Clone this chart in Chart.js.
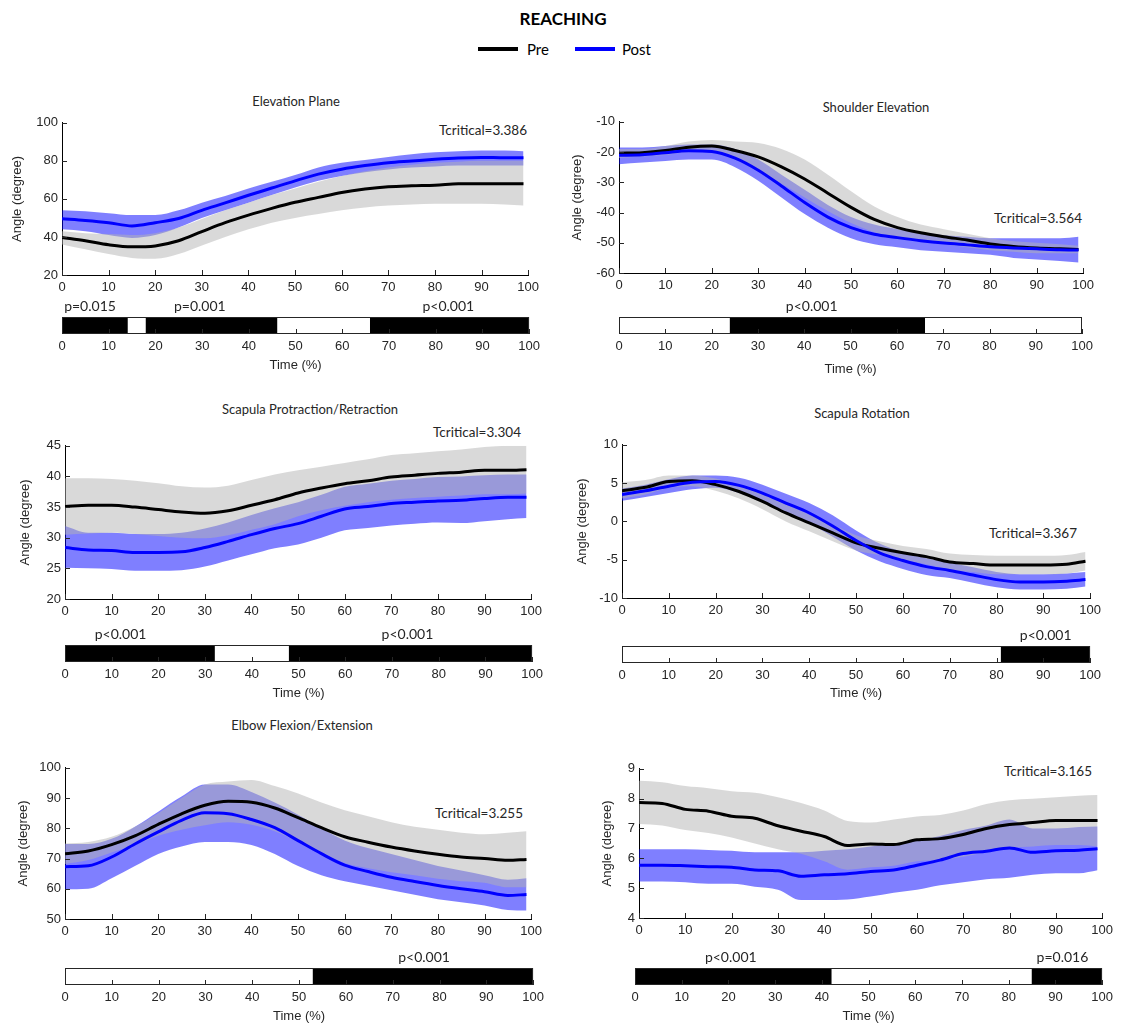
<!DOCTYPE html>
<html>
<head>
<meta charset="utf-8">
<title>REACHING</title>
<script src="https://cdn.jsdelivr.net/npm/chart.js@4.4.1/dist/chart.umd.min.js"></script>
<style>
  body { margin: 0; background: #fff; }
  #page { position: relative; width: 1123px; height: 1025px; overflow: hidden; font-family: Lato, 'Open Sans', sans-serif; color: #262626; }
  .txt { position: absolute; transform: translate(-50%, -50%); white-space: nowrap; font-size: 13px; }
  .tcrit { font-size: 13.5px; }
  .main-title { font-size: 17px; font-weight: bold; color: #000; }
  .legend-txt { position: absolute; transform: translateY(-50%); font-size: 15px; color: #000; }
  .legend-line { position: absolute; height: 4px; }
  canvas { position: absolute; }
</style>
</head>
<body>
<div id="page">
  <div class="txt main-title" style="left:563px; top:18px;">REACHING</div>
  <div class="legend-line" style="left:478px; top:47px; width:40px; background:#000;"></div>
  <div class="legend-txt" style="left:527px; top:49px;">Pre</div>
  <div class="legend-line" style="left:575px; top:47px; width:40px; background:#0000ff;"></div>
  <div class="legend-txt" style="left:622px; top:49px;">Post</div>
</div>
<script>
// 時間軸（%）と目盛り
const timePct = [0, 5, 10, 15, 20, 25, 30, 35, 40, 45, 50, 55, 60, 65, 70, 75, 80, 85, 90, 95, 99];
const timeTicks = [0, 10, 20, 30, 40, 50, 60, 70, 80, 90, 100];

// Elevation Plane
const p1YTicks = [20, 40, 60, 80, 100];
const p1PreMean = [39.7, 38, 35.9, 34.8, 35.3, 38, 42.8, 47.5, 51.5, 55, 58.2, 60.8, 63.4, 65.2, 66.4, 66.9, 67.2, 67.9, 68, 68, 67.9];
const p1PreUpper = [43, 42, 41.5, 41, 42, 45, 49.5, 54, 58, 62, 65.5, 69, 72, 74.5, 76.5, 78, 79, 79.5, 80, 80, 80];
const p1PreLower = [36, 33.5, 31, 29, 28.5, 31, 35.5, 40, 44, 47.5, 50, 52, 54, 55.5, 56.5, 57, 57.5, 57.5, 57.5, 57, 56.5];
const p1PostMean = [49.6, 48.7, 47.5, 45.8, 47.5, 49.7, 54, 57.9, 61.9, 65.7, 69.5, 73, 75.6, 77.5, 79, 79.9, 80.8, 81.5, 81.8, 81.6, 81.6];
const p1PostUpper = [54, 53.5, 52.5, 51.5, 51.5, 54, 58, 61.5, 65.5, 69, 72.5, 76.5, 79, 80.5, 82, 83.5, 84.5, 85, 85.5, 85.5, 85];
const p1PostLower = [44, 43, 41, 39.5, 41, 45, 50, 54, 58, 62, 66, 69.5, 72, 74, 75.5, 76.5, 77, 77.5, 77.5, 77.5, 77.5];
const p1Sig = [[0, 14], [18, 46], [66, 100]];
const p1PText = ['p=0.015', 'p=0.001', 'p<0.001'];
const p1PAt = [6, 29.5, 82.7];

// Shoulder Elevation
const p2YTicks = [-60, -50, -40, -30, -20, -10];
const p2PreMean = [-20.4, -20.2, -19.5, -18.4, -18, -19.5, -21.6, -24.9, -28.9, -33.6, -38.3, -42.3, -45, -46.7, -48, -49.1, -50.4, -51.2, -51.7, -52, -52.2];
const p2PreUpper = [-19, -19, -18, -16.5, -16, -16.5, -17, -19, -22.5, -27.5, -33, -38, -41.5, -44, -45.5, -47, -48.5, -49.5, -50, -50.5, -51];
const p2PreLower = [-22, -21.5, -21, -20, -20, -22.5, -26, -30.5, -35, -39.5, -43.5, -46.5, -48.5, -49.5, -50.5, -51.5, -52.5, -53, -53.5, -53.5, -53.5];
const p2PostMean = [-21.1, -20.9, -20.2, -19.6, -19.8, -22, -26, -31.2, -36.7, -41.5, -45, -47.2, -48.3, -49.3, -50.1, -50.7, -51.3, -51.7, -52, -52.3, -52.4];
const p2PostUpper = [-18.5, -18.5, -18, -17.5, -17.5, -19, -22.5, -27.5, -32.5, -37.5, -41.5, -44, -45.5, -46.5, -47.5, -48, -48.5, -48.5, -48.5, -48.5, -48];
const p2PostLower = [-24, -23.5, -23, -22.5, -22.5, -25, -29.5, -35, -40.5, -45, -48.5, -50.5, -51.5, -52.5, -53, -53.5, -54, -55, -55.5, -56, -56.5];
const p2Sig = [[24, 66]];
const p2PText = ['p<0.001'];
const p2PAt = [41.6];

// Scapula Protraction/Retraction
const p3YTicks = [20, 25, 30, 35, 40, 45];
const p3PreMean = [35.1, 35.3, 35.3, 35, 34.6, 34.2, 34, 34.4, 35.3, 36.2, 37.3, 38.1, 38.8, 39.3, 39.9, 40.2, 40.5, 40.7, 41, 41, 41.1];
const p3PreUpper = [39.7, 39.7, 39.6, 39.3, 38.9, 38.4, 38.2, 38.5, 39.4, 40.3, 41, 41.6, 42.2, 42.8, 43.5, 43.8, 44.1, 44.4, 44.8, 45, 45];
const p3PreLower = [30.5, 30.7, 30.8, 30.6, 30.3, 30, 29.9, 30.4, 31.3, 32.2, 33.5, 34.5, 35.2, 35.8, 36.2, 36.5, 36.7, 36.9, 37.1, 37.1, 37.2];
const p3PostMean = [28.4, 28, 27.9, 27.6, 27.6, 27.7, 28.4, 29.4, 30.5, 31.5, 32.3, 33.5, 34.7, 35.1, 35.6, 35.8, 36, 36.1, 36.4, 36.6, 36.6];
const p3PostUpper = [31.9, 30.8, 30.8, 30.6, 30.6, 30.8, 31.5, 32.5, 33.7, 34.8, 35.8, 37, 38.3, 38.8, 39.3, 39.6, 39.9, 40, 40.2, 40.3, 40.3];
const p3PostLower = [25.1, 25, 24.9, 24.6, 24.6, 24.7, 25.3, 26.3, 27.3, 28.3, 28.9, 30, 31.2, 31.6, 32, 32.3, 32.5, 32.4, 32.7, 33, 33.2];
const p3Sig = [[0, 32], [48, 100]];
const p3PText = ['p<0.001', 'p<0.001'];
const p3PAt = [11.9, 73.3];

// Scapula Rotation
const p4YTicks = [-10, -5, 0, 5, 10];
const p4PreMean = [4, 4.45, 5.2, 5.3, 4.8, 3.9, 2.6, 1.1, -0.2, -1.5, -2.8, -3.5, -4.1, -4.6, -5.3, -5.5, -5.7, -5.7, -5.7, -5.6, -5.2];
const p4PreUpper = [5.1, 5.4, 6, 6, 5.6, 4.8, 3.6, 2.2, 0.9, -0.4, -1.8, -2.6, -3.2, -3.6, -4.2, -4.4, -4.5, -4.5, -4.5, -4.4, -4];
const p4PreLower = [3, 3.5, 4.4, 4.6, 4, 3, 1.6, 0, -1.3, -2.6, -3.8, -4.4, -5, -5.6, -6.3, -6.6, -6.9, -6.9, -6.9, -6.8, -6.4];
const p4PostMean = [3.5, 4, 4.6, 5.1, 5.2, 4.7, 3.7, 2.4, 1.1, -0.6, -2.5, -4.1, -5.1, -5.9, -6.4, -7, -7.6, -7.9, -7.9, -7.8, -7.6];
const p4PostUpper = [4.3, 4.8, 5.5, 6, 6, 5.7, 4.8, 3.6, 2.4, 0.8, -1.2, -2.9, -4, -4.8, -5.4, -6, -6.6, -6.9, -6.9, -6.8, -6.6];
const p4PostLower = [2.7, 3.2, 3.7, 4.2, 4.4, 3.7, 2.6, 1.2, -0.2, -2, -3.8, -5.2, -6.2, -7, -7.4, -8, -8.6, -8.9, -8.9, -8.8, -8.5];
const p4Sig = [[81, 100]];
const p4PText = ['p<0.001'];
const p4PAt = [90.5];

// Elbow Flexion/Extension
const p5YTicks = [50, 60, 70, 80, 90, 100];
const p5PreMean = [71.6, 72.5, 74.6, 77.5, 81.3, 84.8, 87.6, 88.9, 88.6, 86.7, 83.5, 80.2, 77.2, 75.4, 73.8, 72.5, 71.4, 70.5, 70, 69.4, 69.7];
const p5PreUpper = [75, 75.5, 77.2, 80.5, 85, 90, 94.5, 95.5, 96, 94, 91.5, 88.5, 86, 84, 82, 80.5, 79.5, 78.5, 78, 78.5, 79];
const p5PreLower = [68.2, 69.5, 72, 74.5, 77.5, 79.5, 81, 82, 81.2, 79, 75.5, 72, 68.5, 66.8, 65.5, 64.5, 63.3, 62.5, 62, 60.5, 60.5];
const p5PostMean = [67.3, 67.6, 70.5, 74.8, 78.8, 82.6, 85.1, 84.8, 82.9, 80.2, 75.9, 71.6, 67.8, 65.7, 63.8, 62.4, 61.1, 60, 59, 57.8, 58.1];
const p5PostUpper = [74.8, 74.8, 76.5, 80.5, 85.5, 90.5, 94.5, 94.5, 92, 88.5, 84.5, 80, 76, 73.5, 71.5, 69.5, 67.5, 66, 64.5, 63, 63.5];
const p5PostLower = [59.8, 60, 63.5, 67.5, 71.5, 74, 75.5, 75.5, 74.5, 71.5, 67.5, 64.5, 62.5, 61, 59.5, 58, 56.5, 55.5, 54.5, 53, 52.8];
const p5Sig = [[53, 100]];
const p5PText = ['p<0.001'];
const p5PAt = [76.7];

// 6枚目（タイトルなし）
const p6YTicks = [4, 5, 6, 7, 8, 9];
const p6PreMean = [7.87, 7.84, 7.64, 7.58, 7.41, 7.34, 7.09, 6.91, 6.73, 6.43, 6.48, 6.46, 6.62, 6.66, 6.8, 7.0, 7.13, 7.2, 7.27, 7.27, 7.27];
const p6PreUpper = [8.6, 8.55, 8.42, 8.35, 8.25, 8.2, 8.05, 7.85, 7.6, 7.25, 7.2, 7.3, 7.4, 7.45, 7.6, 7.82, 7.95, 8.0, 8.05, 8.1, 8.12];
const p6PreLower = [7.15, 7.1, 6.95, 6.85, 6.7, 6.5, 6.3, 6.15, 5.9, 5.62, 5.7, 5.75, 5.9, 5.95, 6.05, 6.2, 6.35, 6.4, 6.45, 6.45, 6.4];
const p6PostMean = [5.77, 5.77, 5.75, 5.72, 5.7, 5.61, 5.58, 5.4, 5.45, 5.48, 5.56, 5.61, 5.77, 5.94, 6.16, 6.24, 6.35, 6.2, 6.25, 6.27, 6.32];
const p6PostUpper = [6.3, 6.3, 6.3, 6.28, 6.25, 6.2, 6.2, 6.2, 6.25, 6.3, 6.4, 6.5, 6.6, 6.75, 6.95, 7.1, 7.3, 7.0, 7.0, 7.05, 7.07];
const p6PostLower = [5.22, 5.22, 5.2, 5.15, 5.15, 5.05, 4.95, 4.6, 4.6, 4.62, 4.72, 4.85, 4.95, 5.1, 5.2, 5.3, 5.35, 5.45, 5.5, 5.5, 5.6];
const p6Sig = [[0, 42], [85, 100]];
const p6PText = ['p<0.001', 'p=0.016'];
const p6PAt = [20.5, 91.5];

// パネル配置（ピクセル位置はレイアウトのみ）
const panels = [
  { title: 'Elevation Plane', tcrit: 'Tcritical=3.386', yTicks: p1YTicks,
    pre: [p1PreMean, p1PreUpper, p1PreLower], post: [p1PostMean, p1PostUpper, p1PostLower],
    sig: p1Sig, pText: p1PText, pAt: p1PAt,
    box: { l: 62, t: 121, r: 530, b: 275 }, sigBox: { l: 62, r: 531, t: 317, b: 334 },
    axisW: 55, titleXY: [296, 101], tcritXY: [483, 130], timeY: 365 },
  { title: 'Shoulder Elevation', tcrit: 'Tcritical=3.564', yTicks: p2YTicks,
    pre: [p2PreMean, p2PreUpper, p2PreLower], post: [p2PostMean, p2PostUpper, p2PostLower],
    sig: p2Sig, pText: p2PText, pAt: p2PAt,
    box: { l: 619, t: 120, r: 1085, b: 273 }, sigBox: { l: 619, r: 1084, t: 317, b: 334 },
    axisW: 52, titleXY: [876, 107], tcritXY: [1038, 218], timeY: 369 },
  { title: 'Scapula Protraction/Retraction', tcrit: 'Tcritical=3.304', yTicks: p3YTicks,
    pre: [p3PreMean, p3PreUpper, p3PreLower], post: [p3PostMean, p3PostUpper, p3PostLower],
    sig: p3Sig, pText: p3PText, pAt: p3PAt,
    box: { l: 65, t: 444, r: 533, b: 599 }, sigBox: { l: 65, r: 534, t: 645, b: 662 },
    axisW: 50, titleXY: [310, 409], tcritXY: [477, 432], timeY: 693 },
  { title: 'Scapula Rotation', tcrit: 'Tcritical=3.367', yTicks: p4YTicks,
    pre: [p4PreMean, p4PreUpper, p4PreLower], post: [p4PostMean, p4PostUpper, p4PostLower],
    sig: p4Sig, pText: p4PText, pAt: p4PAt,
    box: { l: 622, t: 443, r: 1092, b: 598 }, sigBox: { l: 622, r: 1092, t: 646, b: 663 },
    axisW: 50, titleXY: [862, 413], tcritXY: [1033, 533], timeY: 693 },
  { title: 'Elbow Flexion/Extension', tcrit: 'Tcritical=3.255', yTicks: p5YTicks,
    pre: [p5PreMean, p5PreUpper, p5PreLower], post: [p5PostMean, p5PostUpper, p5PostLower],
    sig: p5Sig, pText: p5PText, pAt: p5PAt,
    box: { l: 65, t: 766, r: 533, b: 919 }, sigBox: { l: 65, r: 535, t: 968, b: 985 },
    axisW: 52, titleXY: [302, 725], tcritXY: [479, 813], timeY: 1016 },
  { title: '', tcrit: 'Tcritical=3.165', yTicks: p6YTicks,
    pre: [p6PreMean, p6PreUpper, p6PreLower], post: [p6PostMean, p6PostUpper, p6PostLower],
    sig: p6Sig, pText: p6PText, pAt: p6PAt,
    box: { l: 639, t: 767, r: 1104, b: 918 }, sigBox: { l: 635, r: 1104, t: 968, b: 985 },
    axisW: 42, titleXY: [870, 725], tcritXY: [1048, 771], timeY: 1016 }
];

const TICK_FONT = { family: "'Liberation Sans', Arial, sans-serif", size: 13 };
const TICK_COLOR = '#262626';
const PRE_BAND = 'rgba(179, 179, 179, 0.5)';
const POST_BAND = 'rgba(0, 0, 255, 0.5)';

// 内向きの目盛り線を描く
const inwardTicks = {
  id: 'inwardTicks',
  afterDraw(chart) {
    const ctx = chart.ctx;
    const area = chart.chartArea;
    const xs = chart.scales.x;
    const ys = chart.scales.y;
    ctx.save();
    ctx.strokeStyle = TICK_COLOR;
    ctx.lineWidth = 1;
    ctx.beginPath();
    xs.ticks.forEach(t => {
      const px = Math.round(xs.getPixelForValue(t.value)) + 0.5;
      ctx.moveTo(px, area.bottom);
      ctx.lineTo(px, area.bottom - 5);
    });
    if (ys && ys.options.display !== false) {
      ys.ticks.forEach(t => {
        const py = Math.round(ys.getPixelForValue(t.value)) + 0.5;
        ctx.moveTo(area.left, py);
        ctx.lineTo(area.left + 5, py);
      });
    }
    ctx.stroke();
    ctx.restore();
  }
};

// 有意区間バーの枠とp値ラベル
const sigFrame = {
  id: 'sigFrame',
  afterDraw(chart, args, opts) {
    const ctx = chart.ctx;
    const area = chart.chartArea;
    const xs = chart.scales.x;
    ctx.save();
    ctx.strokeStyle = TICK_COLOR;
    ctx.lineWidth = 1;
    ctx.strokeRect(Math.round(area.left) + 0.5, Math.round(area.top) + 0.5,
      Math.round(area.right - area.left) - 1, Math.round(area.bottom - area.top) - 1);
    ctx.fillStyle = '#262626';
    ctx.font = "14px Lato, 'Open Sans', sans-serif";
    ctx.textAlign = 'center';
    ctx.textBaseline = 'middle';
    opts.labels.forEach((txt, i) => {
      ctx.fillText(txt, xs.getPixelForValue(opts.at[i]), area.top - 11);
    });
    ctx.restore();
  }
};

function addText(text, xy, cls) {
  const d = document.createElement('div');
  d.className = 'txt' + (cls ? ' ' + cls : '');
  d.style.left = xy[0] + 'px';
  d.style.top = xy[1] + 'px';
  d.textContent = text;
  document.getElementById('page').appendChild(d);
}

function makeCanvas(left, top, w, h) {
  const c = document.createElement('canvas');
  c.width = w;
  c.height = h;
  c.style.left = left + 'px';
  c.style.top = top + 'px';
  c.style.width = w + 'px';
  c.style.height = h + 'px';
  document.getElementById('page').appendChild(c);
  return c;
}

function toPoints(values) {
  return timePct.map((t, i) => ({ x: t, y: values[i] }));
}

function bandSet(values, fill, color) {
  return {
    data: toPoints(values),
    borderColor: 'transparent',
    borderWidth: 0,
    pointRadius: 0,
    fill: fill,
    backgroundColor: color,
    cubicInterpolationMode: 'monotone'
  };
}

function lineSet(values, color) {
  return {
    data: toPoints(values),
    borderColor: color,
    borderWidth: 3,
    pointRadius: 0,
    fill: false,
    cubicInterpolationMode: 'monotone'
  };
}

// 角度の推移グラフ
function renderAngleChart(p) {
  const padTop = 10, padRight = 14, xAxisH = 24;
  const w = p.axisW + (p.box.r - p.box.l) + padRight;
  const h = padTop + (p.box.b - p.box.t) + xAxisH;
  const canvas = makeCanvas(p.box.l - p.axisW, p.box.t - padTop, w, h);

  new Chart(canvas, {
    type: 'line',
    data: {
      datasets: [
        lineSet(p.post[0], '#0000ff'),
        lineSet(p.pre[0], '#000000'),
        bandSet(p.pre[1], '+1', PRE_BAND),
        bandSet(p.pre[2], false, PRE_BAND),
        bandSet(p.post[1], '+1', POST_BAND),
        bandSet(p.post[2], false, POST_BAND)
      ]
    },
    options: {
      responsive: false,
      animation: false,
      events: [],
      layout: { padding: { top: padTop, right: padRight, left: 0, bottom: 0 } },
      plugins: { legend: { display: false }, tooltip: { enabled: false } },
      scales: {
        x: {
          type: 'linear',
          min: 0,
          max: 100,
          afterBuildTicks: s => { s.ticks = timeTicks.map(v => ({ value: v })); },
          afterFit: s => { s.height = xAxisH; },
          grid: { display: false, drawTicks: false },
          border: { display: true, color: '#000', width: 1 },
          ticks: { padding: 5, font: TICK_FONT, color: TICK_COLOR, maxRotation: 0 }
        },
        y: {
          type: 'linear',
          min: p.yTicks[0],
          max: p.yTicks[p.yTicks.length - 1],
          afterBuildTicks: s => { s.ticks = p.yTicks.map(v => ({ value: v })); },
          afterFit: s => { s.width = p.axisW; },
          grid: { display: false, drawTicks: false },
          border: { display: true, color: '#000', width: 1 },
          ticks: { padding: 4, font: TICK_FONT, color: TICK_COLOR },
          title: { display: true, text: 'Angle (degree)', font: TICK_FONT, color: TICK_COLOR, padding: { top: 3, bottom: 0 } }
        }
      }
    },
    plugins: [inwardTicks]
  });
}

// 有意区間バー
function renderSigBar(p) {
  const padL = 12, padR = 14, padTop = 24;
  const axisH = p.timeY + 8 - p.sigBox.b;
  const w = padL + (p.sigBox.r - p.sigBox.l) + padR;
  const h = padTop + (p.sigBox.b - p.sigBox.t) + axisH;
  const canvas = makeCanvas(p.sigBox.l - padL, p.sigBox.t - padTop, w, h);

  new Chart(canvas, {
    type: 'bar',
    data: {
      labels: ['sig'],
      datasets: p.sig.map(seg => ({
        data: [seg],
        backgroundColor: '#000',
        borderWidth: 0,
        barPercentage: 1,
        categoryPercentage: 1,
        grouped: false
      }))
    },
    options: {
      indexAxis: 'y',
      responsive: false,
      animation: false,
      events: [],
      layout: { padding: { top: padTop, right: padR, left: padL, bottom: 0 } },
      plugins: {
        legend: { display: false },
        tooltip: { enabled: false },
        sigFrame: { labels: p.pText, at: p.pAt }
      },
      scales: {
        x: {
          type: 'linear',
          min: 0,
          max: 100,
          afterBuildTicks: s => { s.ticks = timeTicks.map(v => ({ value: v })); },
          afterFit: s => { s.height = axisH; },
          grid: { display: false, drawTicks: false },
          border: { display: false },
          ticks: { padding: 5, font: TICK_FONT, color: TICK_COLOR, maxRotation: 0 },
          title: { display: true, text: 'Time (%)', font: TICK_FONT, color: TICK_COLOR, padding: { top: 0, bottom: 0 } }
        },
        y: { display: false }
      }
    },
    plugins: [sigFrame, inwardTicks]
  });
}

panels.forEach(p => {
  if (p.title) addText(p.title, p.titleXY);
  addText(p.tcrit, p.tcritXY, 'tcrit');
  renderAngleChart(p);
  renderSigBar(p);
});
</script>
</body>
</html>
